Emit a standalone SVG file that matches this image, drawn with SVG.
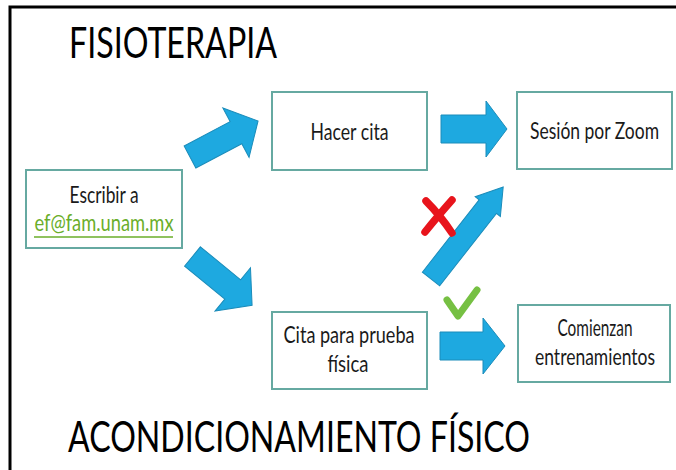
<svg xmlns="http://www.w3.org/2000/svg" width="676" height="470" viewBox="0 0 676 470">
  <defs>
    <style>
      .box { fill: #ffffff; stroke: #66a9a1; stroke-width: 2; }
      .arrow { fill: #1ea9e0; stroke: #1b8cba; stroke-width: 1; stroke-linejoin: miter; }
      .t { font-family: Lato, "Open Sans", sans-serif; fill: #1a1a1a; text-anchor: middle; font-size: 18.5px; }
      .title { font-family: Lato, "Open Sans", sans-serif; fill: #000000; font-size: 33px; }
    </style>
  </defs>
  <rect x="0" y="0" width="676" height="470" fill="#ffffff"/>
  <path d="M10,470 V7 H676" fill="none" stroke="#000000" stroke-width="3"/>

  <text class="title" transform="translate(69,58) scale(1,1.3)" x="0" y="0" textLength="208" lengthAdjust="spacingAndGlyphs">FISIOTERAPIA</text>
  <text class="title" transform="translate(68,452) scale(1,1.3)" x="0" y="0" textLength="462" lengthAdjust="spacingAndGlyphs">ACONDICIONAMIENTO FÍSICO</text>

  <g id="connectors">
    <polygon class="arrow" transform="translate(190,157) rotate(-27.9)" points="0,-12.5 52,-12.5 52,-28 77,0 52,28 52,12.5 0,12.5"/>
    <polygon class="arrow" transform="translate(192.5,256.5) rotate(39.3)" points="0,-12.5 52,-12.5 52,-28 77,0 52,28 52,12.5 0,12.5"/>
    <polygon class="arrow" points="441,115 486,115 486,101 507,129 486,157 486,143 441,143"/>
    <polygon class="arrow" points="440,332 483,332 483,318 505,346 483,374 483,360 440,360"/>
    <polygon class="arrow" transform="translate(431,279) rotate(-51.9)" points="0,-11 92,-11 92,-16 117,0 92,16 92,11 0,11"/>
    <path d="M426,201 Q440,215 452,233 M452,200 Q437,217 425,232" fill="none" stroke="#e8141c" stroke-width="7.5" stroke-linecap="round"/>
    <path d="M447,300 L458,316 L477,290" fill="none" stroke="#76c043" stroke-width="7" stroke-linecap="round" stroke-linejoin="round"/>
  </g>

  <g id="node-escribir">
    <rect class="box" x="26" y="170" width="156" height="78"/>
    <text class="t" transform="translate(104,203) scale(1,1.22)" x="0" y="0" textLength="69" lengthAdjust="spacingAndGlyphs">Escribir a</text>
    <text class="t" transform="translate(104,231) scale(1,1.22)" x="0" y="0" style="fill:#6aae2a" textLength="139" lengthAdjust="spacingAndGlyphs">ef@fam.unam.mx</text>
    <line x1="34" y1="237" x2="173" y2="237" stroke="#6aae2a" stroke-width="1.5"/>
  </g>
  <g id="node-hacer-cita">
    <rect class="box" x="272" y="92" width="155" height="78"/>
    <text class="t" transform="translate(349.5,140) scale(1,1.22)" x="0" y="0" textLength="78" lengthAdjust="spacingAndGlyphs">Hacer cita</text>
  </g>
  <g id="node-sesion">
    <rect class="box" x="517" y="92" width="155" height="77"/>
    <text class="t" transform="translate(594.5,139) scale(1,1.22)" x="0" y="0" textLength="129" lengthAdjust="spacingAndGlyphs">Sesión por Zoom</text>
  </g>
  <g id="node-cita-prueba">
    <rect class="box" x="272" y="312" width="155" height="77"/>
    <text class="t" transform="translate(349,343) scale(1,1.22)" x="0" y="0" textLength="131" lengthAdjust="spacingAndGlyphs">Cita para prueba</text>
    <text class="t" transform="translate(348,372) scale(1,1.22)" x="0" y="0" textLength="41" lengthAdjust="spacingAndGlyphs">física</text>
  </g>
  <g id="node-comienzan">
    <rect class="box" x="518" y="305" width="152" height="77"/>
    <text class="t" transform="translate(595,336) scale(1,1.22)" x="0" y="0" textLength="75" lengthAdjust="spacingAndGlyphs">Comienzan</text>
    <text class="t" transform="translate(595,365) scale(1,1.22)" x="0" y="0" textLength="120" lengthAdjust="spacingAndGlyphs">entrenamientos</text>
  </g>
</svg>
